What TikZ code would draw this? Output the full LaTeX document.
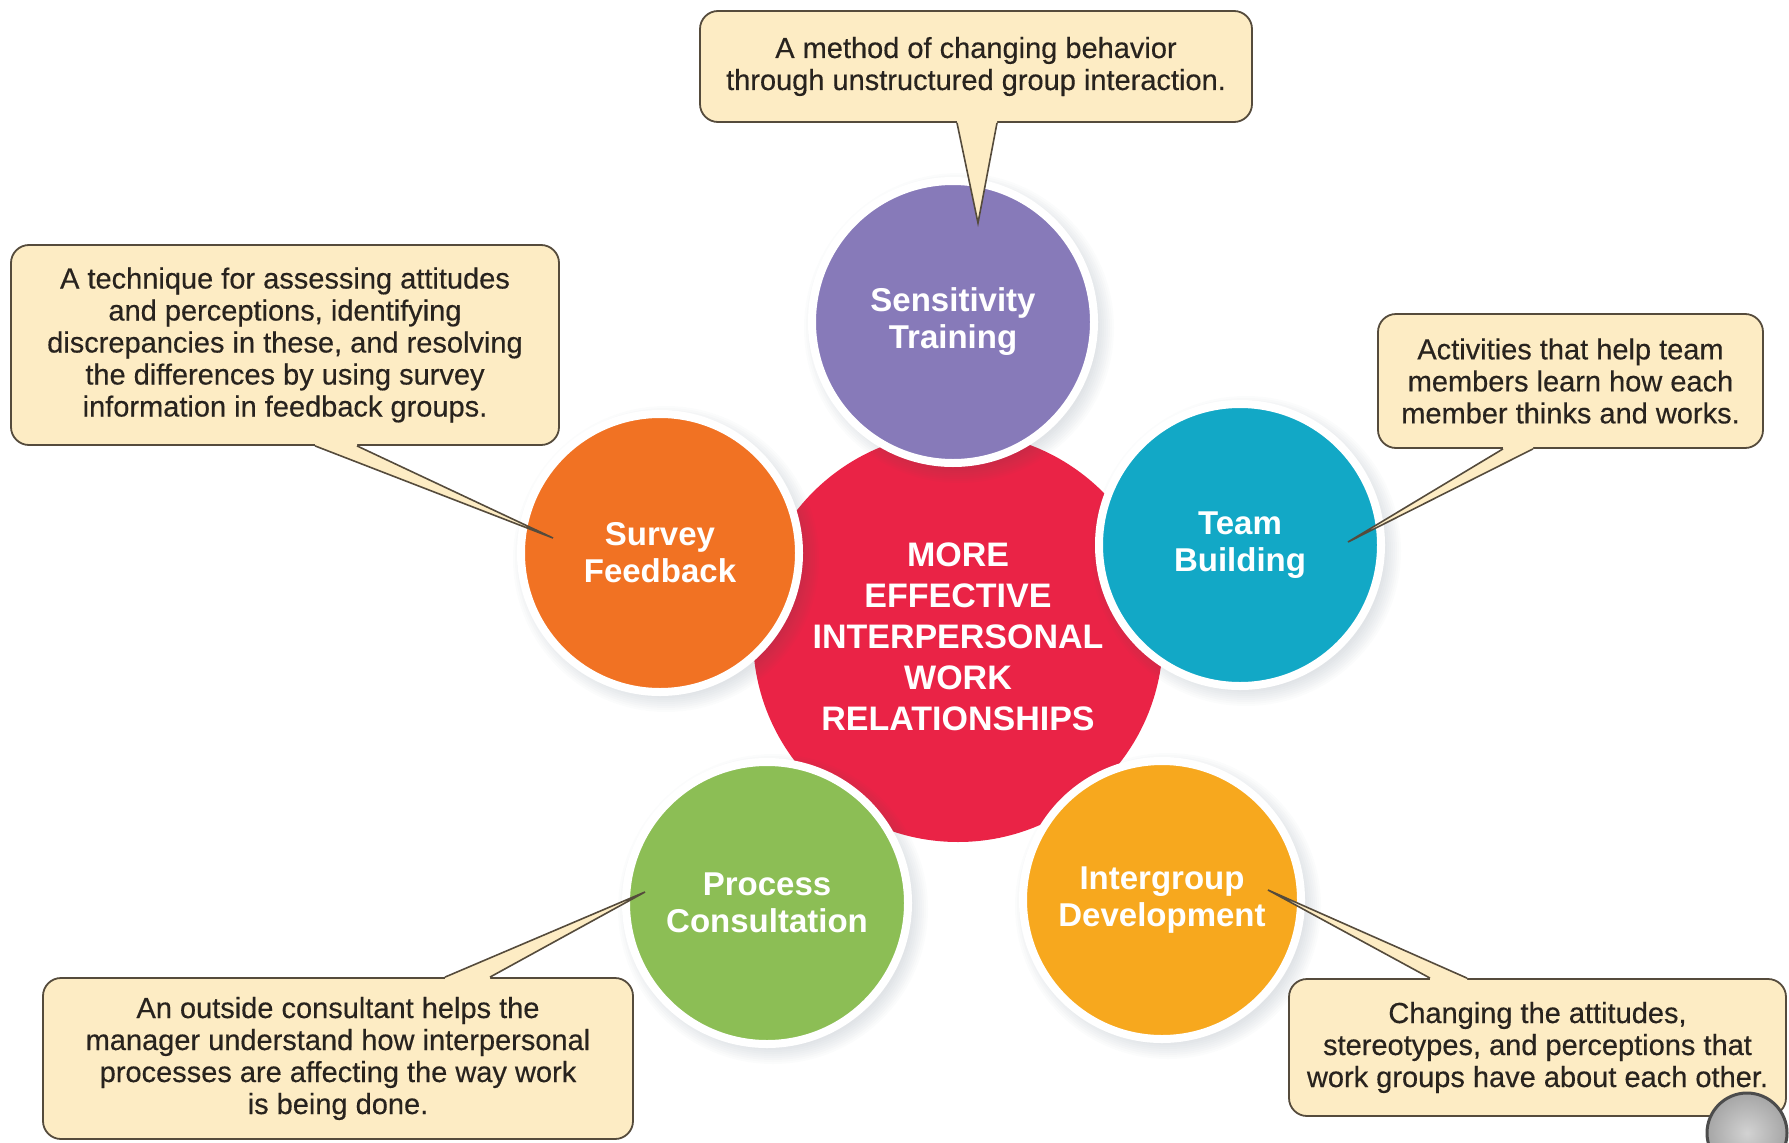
\documentclass[tikz,border=0pt]{standalone}
\usepackage{fontspec}
\setmainfont{Liberation Sans}
\newfontfamily\notefont{Liberation Sans}[FakeBold=0.4]
\usetikzlibrary{calc}

\definecolor{coreRed}{RGB}{234,35,70}
\definecolor{sensPurple}{RGB}{135,122,185}
\definecolor{teamTeal}{RGB}{18,168,198}
\definecolor{surveyOrange}{RGB}{241,114,35}
\definecolor{procGreen}{RGB}{140,190,85}
\definecolor{interYellow}{RGB}{247,168,30}
\definecolor{notefill}{RGB}{253,236,196}
\definecolor{noteline}{RGB}{85,75,60}
\definecolor{notetext}{RGB}{40,35,30}
\definecolor{haze}{RGB}{70,90,110}

% soft halo under a circle: centre, radius (pt)
\newcommand\softshadow[2]{%
  \foreach \k in {1,...,9}{%
    \fill[haze,opacity=0.02] ($(#1)+(6,6)$) circle ({#2pt+\k*2pt});%
  }%
}
% callout tail: anchor, left offset, right offset, tip, inward shift
\newcommand\drawtail[5]{%
  \fill[notefill] ($(#1)+(#2,#5)$) -- ($(#1)+(#2,0)$) -- (#4) -- ($(#1)+(#3,0)$) -- ($(#1)+(#3,#5)$) -- cycle;
  \draw[tailedge] ($(#1)+(#2,0)$) -- (#4) -- ($(#1)+(#3,0)$);
}

\tikzset{
  bubble/.style={circle, draw=white, line width=8pt, inner sep=0pt, align=center,
    text=white, font=\bfseries\fontsize{33}{37}\selectfont},
  note/.style={draw=noteline, fill=notefill, line width=1.8pt, rounded corners=18pt,
    align=center, inner sep=0pt, text=notetext, font=\notefont\fontsize{29}{32}\selectfont},
  tailedge/.style={draw=noteline, line width=1.6pt, line join=miter},
}

\begin{document}
\begin{tikzpicture}[x=1pt,y=-1pt]
\useasboundingbox (0,0) rectangle (1789,1143);

% centre disc
\node[circle, fill=coreRed, minimum size=410pt, inner sep=0pt, align=center, text=white,
  font=\bfseries\fontsize{34}{41}\selectfont] (core) at (958,637)
  {MORE\\EFFECTIVE\\INTERPERSONAL\\WORK\\RELATIONSHIPS};

% surrounding discs
\softshadow{953,322}{137}
\node[bubble, fill=sensPurple, minimum size=282pt] (st) at (953,322) {Sensitivity\\Training};
\softshadow{1240,545}{137}
\node[bubble, fill=teamTeal, minimum size=282pt] (tb) at (1240,545) {Team\\Building};
\softshadow{660,553}{135}
\node[bubble, fill=surveyOrange, minimum size=278pt] (sf) at (660,553) {Survey\\Feedback};
\softshadow{767,903}{137}
\node[bubble, fill=procGreen, minimum size=282pt] (pc) at (767,903) {Process\\Consultation};
\softshadow{1162,900}{135}
\node[bubble, fill=interYellow, minimum size=278pt] (ig) at (1162,900) {Intergroup\\Development};

% callouts
\node[note, minimum width=552pt, minimum height=111pt] (nTop) at (976,66.5)
  {A method of changing behavior\\through unstructured group interaction.};
\coordinate (tipTop) at ($(st.center)+(25,-99)$);
\drawtail{nTop.south}{-19}{21}{tipTop}{-4}

\node[note, minimum width=548pt, minimum height=200pt] (nLeft) at (285,345)
  {A technique for assessing attitudes\\and perceptions, identifying\\discrepancies in these, and resolving\\the differences by using survey\\information in feedback groups.};
\coordinate (tipLeft) at ($(sf.center)+(-107,-15)$);
\drawtail{nLeft.south}{30}{72}{tipLeft}{-4}

\node[note, minimum width=385pt, minimum height=134pt] (nRight) at (1570.5,381)
  {Activities that help team\\members learn how each\\member thinks and works.};
\coordinate (tipRight) at ($(tb.center)+(108,-3)$);
\drawtail{nRight.south}{-67.5}{-37.5}{tipRight}{-4}

\node[note, minimum width=590pt, minimum height=161pt] (nBL) at (338,1058.5)
  {An outside consultant helps the\\manager understand how interpersonal\\processes are affecting the way work\\is being done.};
\coordinate (tipBL) at ($(pc.center)+(-122,-11)$);
\drawtail{nBL.north}{107}{152}{tipBL}{4}

\node[note, minimum width=497pt, minimum height=137pt] (nBR) at (1537.5,1047.5)
  {Changing the attitudes,\\stereotypes, and perceptions that\\work groups have about each other.};
\coordinate (tipBR) at ($(ig.center)+(106,-10)$);
\drawtail{nBR.north}{-107.5}{-70.5}{tipBR}{4}

% round control in the corner
\node[circle, minimum size=80pt, inner sep=0pt, draw=black!70, line width=3pt,
  shading=radial, inner color=gray!35, outer color=gray!70] (nav) at (1747,1133) {};
\end{tikzpicture}
\end{document}
